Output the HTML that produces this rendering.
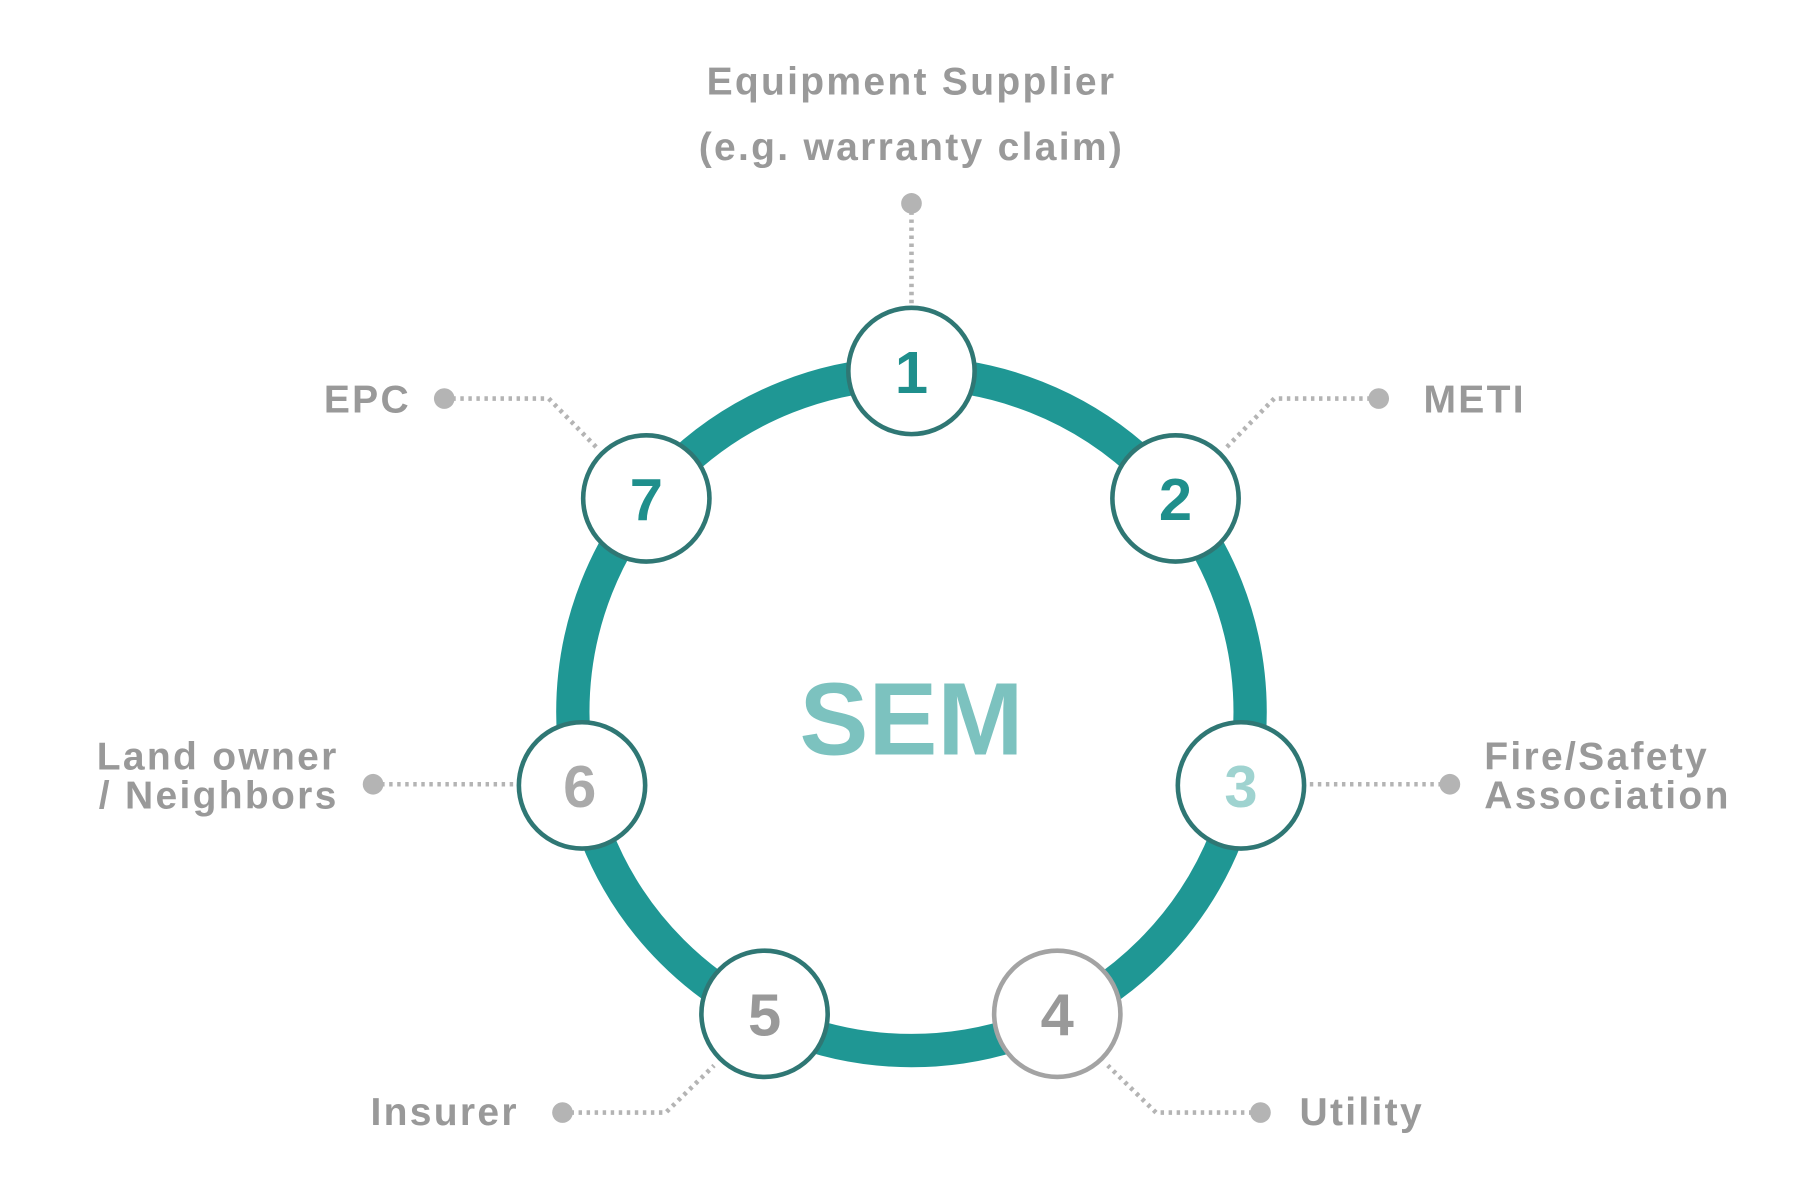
<!DOCTYPE html>
<html><head><meta charset="utf-8"><style>html,body{margin:0;padding:0;background:#fff}svg{display:block}</style></head>
<body>
<svg width="1800" height="1200" viewBox="0 0 1568 1045" xmlns="http://www.w3.org/2000/svg" font-family="'Liberation Sans', 'DejaVu Sans', sans-serif" font-weight="bold">
<rect width="1568" height="1045" fill="#fff"/>
<circle cx="794" cy="620" r="295" fill="none" stroke="#1f9794" stroke-width="29"/>
<g stroke="#b4b4b4" stroke-width="4" stroke-dasharray="3 4" fill="none">
<path d="M794 177 V266"/>
<path d="M387 347 H478 L522 392"/>
<path d="M1201 347 H1110 L1068 390"/>
<path d="M325 683 H450"/>
<path d="M1263 683 H1138"/>
<path d="M490 969 H580 L622 928"/>
<path d="M1098 969 H1007 L965 928"/>
</g>
<g fill="#b4b4b4">
<circle cx="794" cy="177" r="9"/><circle cx="387" cy="347" r="9"/><circle cx="1201" cy="347" r="9"/>
<circle cx="325" cy="683" r="9"/><circle cx="1263" cy="683" r="9"/><circle cx="490" cy="969" r="9"/><circle cx="1098" cy="969" r="9"/>
</g>
<g fill="#fff" stroke-width="4">
<circle cx="794" cy="323" r="55" stroke="#2f7774"/>
<circle cx="1024" cy="434" r="55" stroke="#2f7774"/>
<circle cx="1081" cy="684" r="55" stroke="#2f7774"/>
<circle cx="921" cy="883" r="55" stroke="#a3a3a3"/>
<circle cx="666" cy="883" r="55" stroke="#2f7774"/>
<circle cx="507" cy="684" r="55" stroke="#2f7774"/>
<circle cx="563" cy="434" r="55" stroke="#2f7774"/>
</g>
<g font-size="52" text-anchor="middle">
<text x="794" y="342" fill="#1f8f8c">1</text>
<text x="1024" y="453" fill="#1f8f8c">2</text>
<text x="1081" y="703" fill="#9fd3d0">3</text>
<text x="921" y="902" fill="#999">4</text>
<text x="666" y="902" fill="#999">5</text>
<text x="505" y="703" fill="#aaa">6</text>
<text x="563" y="453" fill="#1f8f8c">7</text>
</g>
<text x="794" y="657" font-size="90" text-anchor="middle" fill="#7cc2bf">SEM</text>
<g font-size="34" fill="#999" letter-spacing="2">
<text x="794" y="82" text-anchor="middle">Equipment Supplier</text>
<text x="794" y="139" text-anchor="middle">(e.g. warranty claim)</text>
<text x="358" y="359" text-anchor="end">EPC</text>
<text x="1240" y="359">METI</text>
<text x="295" y="670" text-anchor="end">Land owner</text>
<text x="295" y="704" text-anchor="end">/ Neighbors</text>
<text x="1293" y="670">Fire/Safety</text>
<text x="1293" y="704">Association</text>
<text x="452" y="980" text-anchor="end">Insurer</text>
<text x="1132" y="980">Utility</text>
</g>
</svg>
</body></html>
